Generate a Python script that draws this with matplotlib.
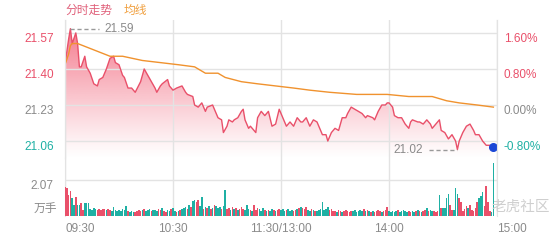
import numpy as np
import matplotlib
matplotlib.use('Agg')
import matplotlib.pyplot as plt
import matplotlib.transforms as mtransforms
from matplotlib.colors import to_rgb

plt.rcParams['font.family'] = ['Liberation Sans', 'Noto Sans CJK SC', 'DejaVu Sans']

# intraday price, minute index from 09:30 (lunch break removed)
price_min = [0, 2, 3, 4, 6, 7, 8, 9, 11, 12, 14, 16, 18, 19, 21, 23, 25, 27, 28, 30,
             32, 33, 35, 37, 39, 42, 44, 46, 48, 50, 51, 53, 54, 57, 58, 60, 62, 65, 67, 68,
             71, 72, 74, 76, 78, 79, 82, 83, 85, 87, 88, 90, 91, 93, 94, 96, 98, 99, 100, 102,
             103, 106, 107, 109, 111, 113, 115, 117, 119, 121, 123, 125, 127, 129, 131, 132, 134, 136, 138, 140,
             142, 143, 145, 146, 148, 150, 152, 154, 156, 157, 159, 161, 163, 165, 167, 168, 171, 172, 174, 176,
             178, 179, 180, 182, 183, 185, 187, 189, 191, 192, 193, 196, 197, 199, 201, 203, 204, 207, 208, 209,
             211, 213, 215, 217, 218, 219, 221, 223, 225, 227, 228, 230, 232, 234, 236, 238]
price_val = [21.42, 21.54, 21.59, 21.52, 21.57, 21.52, 21.41, 21.41, 21.46, 21.41, 21.38, 21.33, 21.32, 21.35, 21.36, 21.40, 21.45, 21.46, 21.43, 21.42,
             21.37, 21.36, 21.31, 21.31, 21.29, 21.34, 21.40, 21.37, 21.34, 21.31, 21.29, 21.32, 21.33, 21.35, 21.32, 21.30, 21.31, 21.32, 21.29, 21.28,
             21.27, 21.23, 21.22, 21.24, 21.20, 21.22, 21.23, 21.21, 21.17, 21.16, 21.10, 21.13, 21.16, 21.15, 21.16, 21.17, 21.20, 21.21, 21.16, 21.12,
             21.13, 21.10, 21.17, 21.20, 21.18, 21.20, 21.13, 21.14, 21.21, 21.17, 21.13, 21.15, 21.13, 21.17, 21.15, 21.15, 21.17, 21.13, 21.16, 21.15,
             21.11, 21.09, 21.09, 21.06, 21.10, 21.12, 21.11, 21.17, 21.17, 21.19, 21.22, 21.21, 21.20, 21.19, 21.17, 21.18, 21.17, 21.16, 21.20, 21.23,
             21.23, 21.24, 21.24, 21.22, 21.18, 21.17, 21.17, 21.14, 21.12, 21.15, 21.16, 21.15, 21.15, 21.14, 21.16, 21.14, 21.12, 21.15, 21.16, 21.11,
             21.10, 21.07, 21.09, 21.06, 21.02, 21.06, 21.10, 21.13, 21.14, 21.11, 21.09, 21.09, 21.06, 21.04, 21.04, 21.03]

# average price line
avg_min = [0, 2, 3, 4, 7, 16, 25, 32, 43, 53, 63, 72, 78, 85, 89, 98, 107, 117, 127, 136,
           147, 162, 179, 191, 204, 212, 219, 229, 238]
avg_val = [21.42, 21.47, 21.51, 21.52, 21.52, 21.49, 21.46, 21.46, 21.44, 21.43, 21.42, 21.41, 21.38, 21.38, 21.36, 21.34, 21.33, 21.32, 21.31, 21.30,
           21.29, 21.28, 21.28, 21.27, 21.27, 21.25, 21.24, 21.23, 21.22]

# volume per minute (万手), 1 = up (red), 0 = down (green)
volume = [1.65, 1.60, 1.20, 1.44, 1.04, 0.63, 1.10, 0.63, 0.63, 0.75,
          0.35, 0.75, 0.75, 0.72, 0.40, 0.35, 0.46, 0.40, 0.35, 0.40,
          0.35, 0.38, 0.38, 0.35, 0.40, 0.35, 0.30, 0.52, 0.35, 0.30,
          0.35, 0.30, 0.40, 0.35, 0.58, 0.30, 0.25, 0.30, 0.23, 0.25,
          0.30, 0.35, 0.30, 0.35, 0.38, 0.30, 0.35, 0.40, 0.30, 0.35,
          0.35, 0.30, 0.38, 0.35, 0.46, 0.30, 0.25, 0.35, 0.30, 0.40,
          0.46, 0.30, 0.25, 0.30, 0.35, 0.40, 0.46, 0.52, 0.40, 0.63,
          0.52, 0.86, 0.92, 0.80, 0.92, 0.58, 1.10, 0.40, 0.52, 0.46,
          0.58, 0.40, 0.46, 0.63, 0.58, 0.46, 0.52, 0.40, 0.58, 1.50,
          0.40, 0.46, 0.35, 0.52, 0.40, 0.46, 0.35, 0.40, 0.52, 0.40,
          0.35, 0.63, 0.40, 0.35, 0.30, 0.63, 0.35, 0.46, 0.40, 0.30,
          0.46, 0.35, 0.30, 0.35, 0.30, 0.40, 0.35, 0.30, 0.35, 0.40,
          0.35, 0.40, 0.30, 0.35, 0.40, 0.30, 0.35, 0.30, 0.35, 0.40,
          0.46, 0.52, 0.46, 0.40, 0.52, 0.35, 0.30, 0.40, 0.35, 0.30,
          0.30, 0.35, 0.40, 0.80, 0.35, 0.40, 0.52, 0.35, 0.40, 0.30,
          0.30, 0.25, 0.35, 0.30, 0.25, 0.30, 0.35, 0.30, 0.25, 0.30,
          0.30, 0.35, 0.25, 0.30, 0.35, 0.30, 0.40, 0.30, 0.35, 0.30,
          0.25, 0.30, 0.25, 0.30, 0.35, 0.30, 0.25, 0.30, 0.35, 0.52,
          0.30, 0.25, 0.30, 0.25, 0.30, 0.35, 0.25, 0.30, 0.35, 0.30,
          0.25, 0.30, 0.25, 0.30, 0.25, 0.30, 0.35, 0.30, 0.25, 0.30,
          0.35, 0.46, 0.30, 0.35, 0.30, 0.30, 0.25, 0.30, 1.20, 0.46,
          0.46, 0.46, 1.04, 1.25, 0.63, 0.35, 0.35, 1.60, 1.25, 1.04,
          0.80, 0.30, 0.40, 0.58, 0.46, 0.63, 0.35, 0.30, 0.46, 0.80,
          1.04, 1.15, 1.38, 0.60, 1.73, 0.80, 0.30, 0.25, 3.05]
vol_up = [1, 1, 1, 1, 0, 0, 1, 0, 0, 1,
          1, 0, 0, 0, 0, 0, 0, 0, 1, 1,
          1, 1, 1, 0, 1, 1, 0, 0, 0, 0,
          0, 0, 0, 0, 0, 1, 0, 0, 0, 1,
          1, 1, 1, 0, 1, 0, 0, 0, 1, 0,
          0, 0, 1, 1, 0, 1, 1, 0, 0, 1,
          0, 0, 1, 0, 1, 0, 0, 0, 1, 0,
          1, 0, 0, 1, 1, 0, 0, 1, 0, 1,
          0, 1, 0, 1, 0, 0, 0, 1, 0, 0,
          1, 1, 0, 1, 0, 1, 0, 1, 1, 1,
          0, 0, 0, 1, 0, 1, 1, 1, 0, 0,
          0, 1, 0, 1, 0, 0, 1, 0, 1, 1,
          0, 0, 0, 1, 0, 0, 0, 1, 1, 0,
          1, 0, 1, 1, 1, 0, 0, 1, 0, 1,
          0, 0, 0, 0, 0, 0, 0, 1, 1, 1,
          1, 0, 1, 1, 0, 1, 1, 1, 1, 1,
          0, 0, 0, 0, 0, 0, 1, 0, 1, 0,
          1, 0, 1, 1, 1, 1, 0, 1, 1, 1,
          0, 0, 0, 0, 0, 1, 0, 0, 0, 0,
          0, 1, 1, 0, 0, 1, 0, 1, 0, 1,
          1, 0, 1, 0, 0, 1, 1, 1, 0, 1,
          0, 0, 0, 0, 1, 1, 0, 0, 0, 1,
          1, 1, 1, 1, 0, 1, 1, 1, 1, 1,
          0, 0, 0, 1, 1, 1, 1, 0, 0]

prev_close = 21.23
price_ticks = [21.57, 21.40, 21.23, 21.06]
pct_labels = ['1.60%', '0.80%', '0.00%', '-0.80%']
vol_tick = 2.07
time_ticks = [0, 60, 120, 180, 240]
time_labels = ['09:30', '10:30', '11:30/13:00', '14:00', '15:00']

RED = '#e9506a'
GREEN = '#1fb0a4'
GREY = '#8a8a8a'
GRID = '#e3e3e3'
ORANGE = '#f0922e'
tick_colors = [RED, RED, GREY, GREEN]
FS = 8.5

W, H = 560, 240
fig = plt.figure(figsize=(W / 100, H / 100), dpi=100)

def px_axes(x0, y0, x1, y1):
    return fig.add_axes([x0 / W, 1 - y1 / H, (x1 - x0) / W, (y1 - y0) / H])

ax = px_axes(65, 20, 497, 158)
axv = px_axes(65, 158, 497, 216)

p_lo, p_hi = 20.980, 21.631
v_hi = 3.335

# gradient fill under the price line
fill_rgb = to_rgb('#f04a64')
grad = np.zeros((256, 1, 4))
grad[..., :3] = fill_rgb
grad[:, 0, 3] = np.linspace(0.0, 0.8, 256) ** 1.1
im = ax.imshow(grad, extent=[0, 240, p_lo, p_hi], origin='lower', aspect='auto', zorder=1)
poly = ax.fill_between(price_min, price_val, p_lo, facecolor='none', edgecolor='none')
im.set_clip_path(poly.get_paths()[0], transform=ax.transData)

ax.plot(price_min, price_val, color=RED, lw=1.0, zorder=3)
ax.plot(avg_min, avg_val, color=ORANGE, lw=1.0, zorder=4)
ax.scatter([price_min[-1]], [price_val[-1]], s=30, color='#1a47d6', zorder=5)

# high / low markers
i_hi = int(np.argmax(price_val))
i_lo = int(np.argmin(price_val))
ax.plot([price_min[i_hi], price_min[i_hi] + 16], [price_val[i_hi]] * 2, color='#999999', ls='--', lw=1.0, dashes=(3, 2), zorder=4)
ax.text(price_min[i_hi] + 19, price_val[i_hi], f'{price_val[i_hi]:.2f}', color=GREY, fontsize=FS, va='center', ha='left')
ax.plot([price_min[i_lo] - 16, price_min[i_lo]], [price_val[i_lo]] * 2, color='#999999', ls='--', lw=1.0, dashes=(3, 2), zorder=4)
ax.text(price_min[i_lo] - 19, price_val[i_lo], f'{price_val[i_lo]:.2f}', color=GREY, fontsize=FS, va='center', ha='right')

ax.set_xlim(0, 240)
ax.set_ylim(p_lo, p_hi)
ax.set_yticks(price_ticks)
ax.set_yticklabels([f'{p:.2f}' for p in price_ticks])
ax.set_xticks(time_ticks)
ax.tick_params(axis='x', length=0, labelbottom=False)
ax.tick_params(axis='y', length=0, labelsize=FS, pad=8)
down = mtransforms.ScaledTranslation(0, -3.0 / 72, fig.dpi_scale_trans)
for lab, c in zip(ax.get_yticklabels(), tick_colors):
    lab.set_color(c)
    lab.set_transform(lab.get_transform() + down)
ax.grid(True, color=GRID, lw=1.0)

axr = ax.twinx()
axr.set_ylim(ax.get_ylim())
axr.set_yticks(price_ticks)
axr.set_yticklabels(pct_labels)
axr.tick_params(axis='y', length=0, labelsize=FS, pad=5)
for lab, c in zip(axr.get_yticklabels(), tick_colors):
    lab.set_color(c)
    lab.set_transform(lab.get_transform() + down)

for a in (ax, axr):
    for s in ('top', 'bottom'):
        a.spines[s].set_visible(False)
    a.spines['left'].set_color(GRID)
    a.spines['right'].set_color(GRID)

# volume bars
vx = np.arange(len(volume))
vcol = [RED if u else GREEN for u in vol_up]
axv.bar(vx, volume, width=0.8, color=vcol, linewidth=0, zorder=3)
axv.set_xlim(0, 240)
axv.set_ylim(0, v_hi)
axv.set_yticks([vol_tick])
axv.set_yticklabels([f'{vol_tick:.2f}'])
axv.tick_params(axis='y', length=0, labelsize=FS, labelcolor=GREY, pad=8)
for lab in axv.get_yticklabels():
    lab.set_transform(lab.get_transform() + down)
axv.set_xticks(time_ticks)
axv.set_xticklabels(time_labels)
axv.tick_params(axis='x', length=0, labelsize=FS, labelcolor=GREY, pad=5)
xl = axv.get_xticklabels()
xl[0].set_ha('left')
xl[-1].set_ha('left')
axv.grid(True, color=GRID, lw=1.0)
for s in ('top', 'bottom'):
    axv.spines[s].set_visible(False)
axv.spines['left'].set_color(GRID)
axv.spines['right'].set_color(GRID)

fig.text(57 / W, 1 - 210 / H, '万手', color=GREY, fontsize=FS, ha='right', va='center')
fig.text(65 / W, 1 - 11 / H, '分时走势', color='#e0607a', fontsize=FS, ha='left', va='center')
fig.text(124 / W, 1 - 11 / H, '均线', color='#f0a040', fontsize=FS, ha='left', va='center')
fig.text(550 / W, 1 - 207 / H, '老虎社区', color='#cfcfcf', fontsize=10.5, ha='right', va='center')

fig.savefig('out.png', dpi=100)
